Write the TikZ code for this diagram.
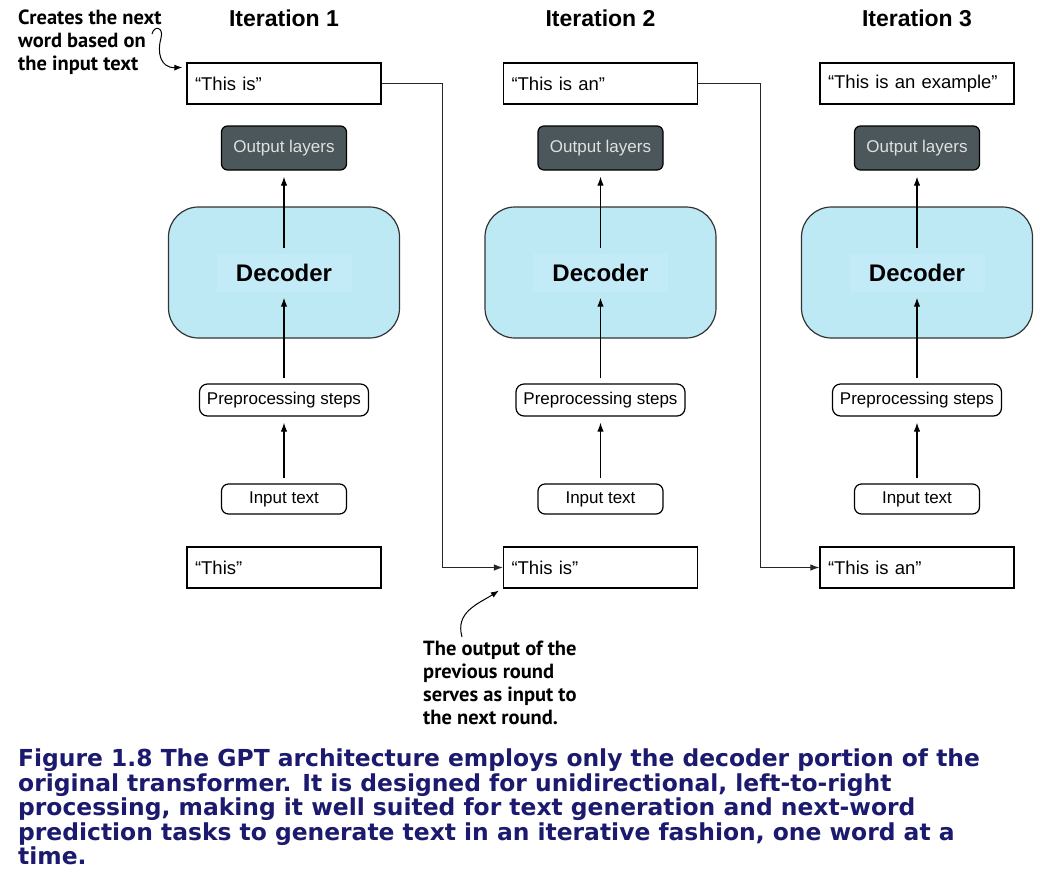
\documentclass[tikz,border=0pt]{standalone}
\usepackage{fontspec}
\usepackage{xcolor}
\usepackage{tikz}
\usetikzlibrary{positioning,arrows.meta}
\setmainfont{Liberation Sans}
\newfontfamily\notefont{PT Sans}
\newfontfamily\capfont{DejaVu Sans}
\definecolor{decblue}{HTML}{BDE9F5}
\definecolor{declight}{HTML}{C3EBF7}
\definecolor{layergray}{HTML}{4B575A}
\definecolor{capblue}{HTML}{1B1A6E}

\begin{document}
\begin{tikzpicture}[
x=1pt, y=-1pt,
>={Latex[length=9pt,width=6.5pt]},
txt/.style={rectangle, draw=black, fill=white, line width=1.2pt, text width=178pt, minimum height=41pt, inner xsep=8pt, align=left, font=\fontsize{18.5}{22}\selectfont},
layers/.style={rectangle, rounded corners=6pt, draw=black, fill=layergray, text=white!88!black, line width=1.2pt, minimum width=125pt, minimum height=44pt, font=\fontsize{17}{20}\selectfont},
decoder/.style={rectangle, rounded corners=30pt, draw=black!80, fill=decblue, line width=1.2pt, minimum width=231pt, minimum height=131pt},
declabel/.style={rectangle, fill=declight, minimum width=135pt, minimum height=38pt, font=\fontsize{24}{28}\selectfont\bfseries},
prep/.style={rectangle, rounded corners=8pt, draw=black, fill=white, line width=1.2pt, minimum width=169pt, minimum height=32pt, inner xsep=3pt, font=\fontsize{17}{20}\selectfont},
inbox/.style={rectangle, rounded corners=7pt, draw=black, fill=white, line width=1.2pt, minimum width=125pt, minimum height=30pt, font=\fontsize{17}{20}\selectfont},
title/.style={font=\fontsize{23}{26}\selectfont\bfseries},
note/.style={align=left, inner sep=0pt, anchor=north west, font=\notefont\fontsize{20.5}{23}\selectfont\bfseries},
flow/.style={->, line width=1.2pt, shorten <=5pt, shorten >=6pt},
link/.style={->, line width=1pt, draw=black!85},
note_arrow/.style={->, line width=1pt, >={Latex[length=8pt,width=6pt]}}
]
\path[use as bounding box, fill=white] (0,0) rectangle (1042,887);

% iteration 1
\node[txt](res_1) at (284,83.5){“This is”};
\node[title](iter_1)[above of = res_1, node distance=65pt]{Iteration 1};
\node[layers](layers_1)[below of = res_1, node distance=64.5pt]{Output layers};
\node[decoder](dec_1)[below of = layers_1, node distance=124.5pt]{};
\node[declabel](declab_1) at (dec_1){Decoder};
\node[prep](prep_1)[below of = dec_1, node distance=127.5pt]{Preprocessing steps};
\node[inbox](input_1)[below of = prep_1, node distance=99pt]{Input text};
\node[txt](prompt_1)[below of = input_1, node distance=68.5pt]{“This”};

% iteration 2
\node[txt](res_2)[right of = res_1, node distance=316.5pt]{“This is an”};
\node[title](iter_2)[above of = res_2, node distance=65pt]{Iteration 2};
\node[layers](layers_2)[below of = res_2, node distance=64.5pt]{Output layers};
\node[decoder](dec_2)[below of = layers_2, node distance=124.5pt]{};
\node[declabel](declab_2) at (dec_2){Decoder};
\node[prep](prep_2)[below of = dec_2, node distance=127.5pt]{Preprocessing steps};
\node[inbox](input_2)[below of = prep_2, node distance=99pt]{Input text};
\node[txt](prompt_2)[below of = input_2, node distance=68.5pt]{“This is”};

% iteration 3
\node[txt](res_3)[right of = res_2, node distance=316.5pt]{“This is an example”};
\node[title](iter_3)[above of = res_3, node distance=65pt]{Iteration 3};
\node[layers](layers_3)[below of = res_3, node distance=64.5pt]{Output layers};
\node[decoder](dec_3)[below of = layers_3, node distance=124.5pt]{};
\node[declabel](declab_3) at (dec_3){Decoder};
\node[prep](prep_3)[below of = dec_3, node distance=127.5pt]{Preprocessing steps};
\node[inbox](input_3)[below of = prep_3, node distance=99pt]{Input text};
\node[txt](prompt_3)[below of = input_3, node distance=68.5pt]{“This is an”};

% callouts
\node[note](note_top) at (18,10){Creates the next\\word based on\\the input text};
\node[note](note_bottom) at (423,641){The output of the\\previous round\\serves as input to\\the next round.};
\coordinate (curl_1) at (152,34);
\coordinate (curl_2) at (462,637);

% caption
\node[align=left, inner sep=0pt, anchor=north west, text=capblue, font=\capfont\fontsize{23.4}{24.6}\selectfont\bfseries](caption) at (18,748.5){Figure 1.8 The GPT architecture employs only the decoder portion of the\\original transformer. It is designed for unidirectional, left-to-right\\processing, making it well suited for text generation and next-word\\prediction tasks to generate text in an iterative fashion, one word at a\\time.};

\draw[flow] (input_1) -- (prep_1);
\draw[flow] (prep_1) -- (declab_1);
\draw[flow] (declab_1) -- (layers_1);
\draw[flow] (input_2) -- (prep_2);
\draw[flow] (prep_2) -- (declab_2);
\draw[flow] (declab_2) -- (layers_2);
\draw[flow] (input_3) -- (prep_3);
\draw[flow] (prep_3) -- (declab_3);
\draw[flow] (declab_3) -- (layers_3);

\draw[link] (res_1.east) -- ++(61,0) |- (prompt_2.west);
\draw[link] (res_2.east) -- ++(62,0) |- (prompt_3.west);

\draw[note_arrow] (curl_1) .. controls (154,25) and (164,27) .. (161,38) .. controls (157,52) and (160,68) .. ([xshift=-4pt,yshift=-5pt]res_1.north west);
\draw[note_arrow] (curl_2) .. controls (455,612) and (478,604) .. ([xshift=-4pt,yshift=-2pt]prompt_2.south west);

\end{tikzpicture}
\end{document}
